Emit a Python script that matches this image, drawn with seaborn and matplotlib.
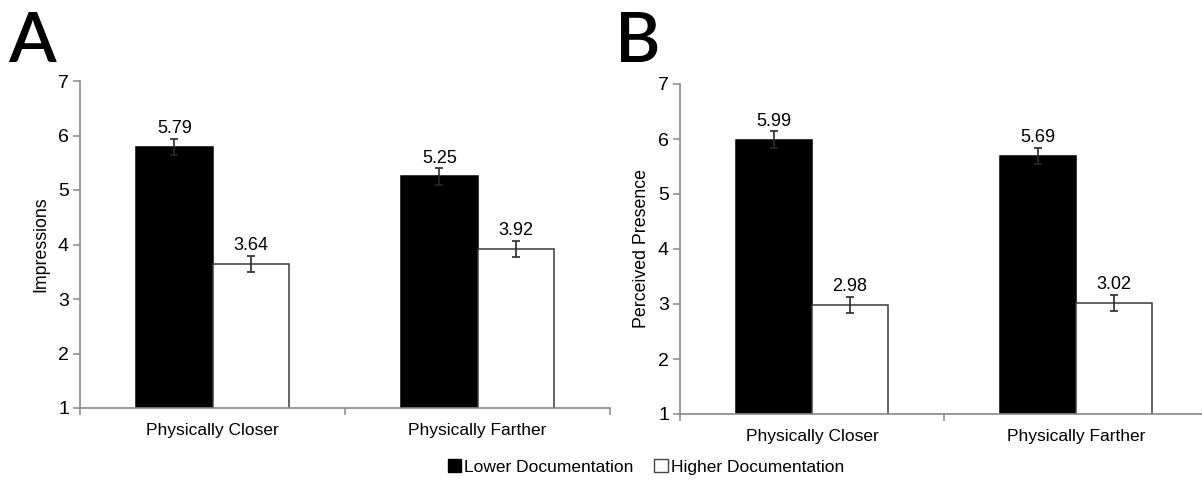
import pandas as pd
import matplotlib
matplotlib.use("Agg")
import matplotlib.pyplot as plt
import seaborn as sns

# data
categories = ["Physically Closer", "Physically Farther"]
groups = ["Lower Documentation", "Higher Documentation"]
impressions_lower = [5.79, 5.25]
impressions_higher = [3.64, 3.92]
impressions_err_lower = [0.15, 0.15]
impressions_err_higher = [0.15, 0.15]
presence_lower = [5.99, 5.69]
presence_higher = [2.98, 3.02]
presence_err_lower = [0.15, 0.15]
presence_err_higher = [0.15, 0.15]

sns.set_style("white")
plt.rcParams["font.family"] = ["Liberation Sans", "DejaVu Sans"]
plt.rcParams["text.color"] = "black"
plt.rcParams["axes.labelcolor"] = "black"
plt.rcParams["xtick.color"] = "black"
plt.rcParams["ytick.color"] = "black"

fig = plt.figure(figsize=(12.02, 4.82), dpi=100)
axA = fig.add_axes([80 / 1202, 1 - 408 / 482, 530 / 1202, 327 / 482])
axB = fig.add_axes([680 / 1202, 1 - 414 / 482, 528 / 1202, 330 / 482])

spine_col = "#878787"


def draw_panel(ax, lower, higher, err_lo, err_hi, ylabel):
    df = pd.DataFrame({
        "cat": categories * 2,
        "doc": [groups[0]] * 2 + [groups[1]] * 2,
        "val": lower + higher,
    })
    sns.barplot(data=df, x="cat", y="val", hue="doc", order=categories,
                hue_order=groups, palette={groups[0]: "black", groups[1]: "white"},
                width=0.574, gap=0, errorbar=None, ax=ax, legend=True,
                linewidth=1.1, saturation=1)
    edges = ["black", "#3a3a3a"]
    for cont, vals, errs, ec in zip(ax.containers, [lower, higher], [err_lo, err_hi], edges):
        xs = []
        for bar in cont:
            bar.set_edgecolor(ec)
            xs.append(bar.get_x() + bar.get_width() / 2)
        ax.errorbar(xs, vals, yerr=errs, fmt="none", ecolor="#2a2a2a",
                    elinewidth=1.2, capsize=2.8, capthick=1.2, zorder=3)
        for x, v, e in zip(xs, vals, errs):
            ax.text(x, v + e + 0.03, f"{v:.2f}", ha="center", va="bottom", fontsize=13)

    ax.set_ylim(1, 7)
    ax.set_yticks(range(1, 8))
    ax.set_xlim(-0.5, 1.5)
    ax.set_xticks([-0.5, 0.5, 1.5])
    ax.set_xticklabels([])
    ax.set_xticks([0, 1], minor=True)
    ax.set_xticklabels(categories, minor=True, fontsize=12.5)
    ax.tick_params(axis="x", which="minor", bottom=False, length=0, pad=11)
    ax.tick_params(axis="x", which="major", bottom=True, length=5, color=spine_col,
                   direction="out", width=1.1)
    ax.tick_params(axis="y", left=True, length=5, color=spine_col, direction="out",
                   labelsize=14, pad=3, width=1.1)
    ax.set_xlabel("")
    ax.set_ylabel(ylabel, fontsize=12.8, labelpad=6)
    sns.despine(ax=ax)
    for s in ["left", "bottom"]:
        ax.spines[s].set_color(spine_col)
        ax.spines[s].set_linewidth(1.2)
    ax.get_legend().remove()


draw_panel(axA, impressions_lower, impressions_higher,
           impressions_err_lower, impressions_err_higher, "Impressions")
draw_panel(axB, presence_lower, presence_higher,
           presence_err_lower, presence_err_higher, "Perceived Presence")

handles = [plt.Rectangle((0, 0), 1, 1, facecolor="black", edgecolor="black"),
           plt.Rectangle((0, 0), 1, 1, facecolor="white", edgecolor="#444444")]
fig.legend(handles, groups, loc="center", bbox_to_anchor=(646 / 1202, 1 - 467 / 482),
           ncol=2, frameon=False, fontsize=12.5, handlelength=0.75, handleheight=0.75,
           handletextpad=0.2, columnspacing=1.2)

fig.text(8 / 1202, 1 - 62 / 482, "A", fontsize=50, family="Lato", weight=600,
         va="baseline")
fig.text(615 / 1202, 1 - 62 / 482, "B", fontsize=50, family="Lato", weight=600,
         va="baseline")

fig.savefig("out.png", dpi=100)
